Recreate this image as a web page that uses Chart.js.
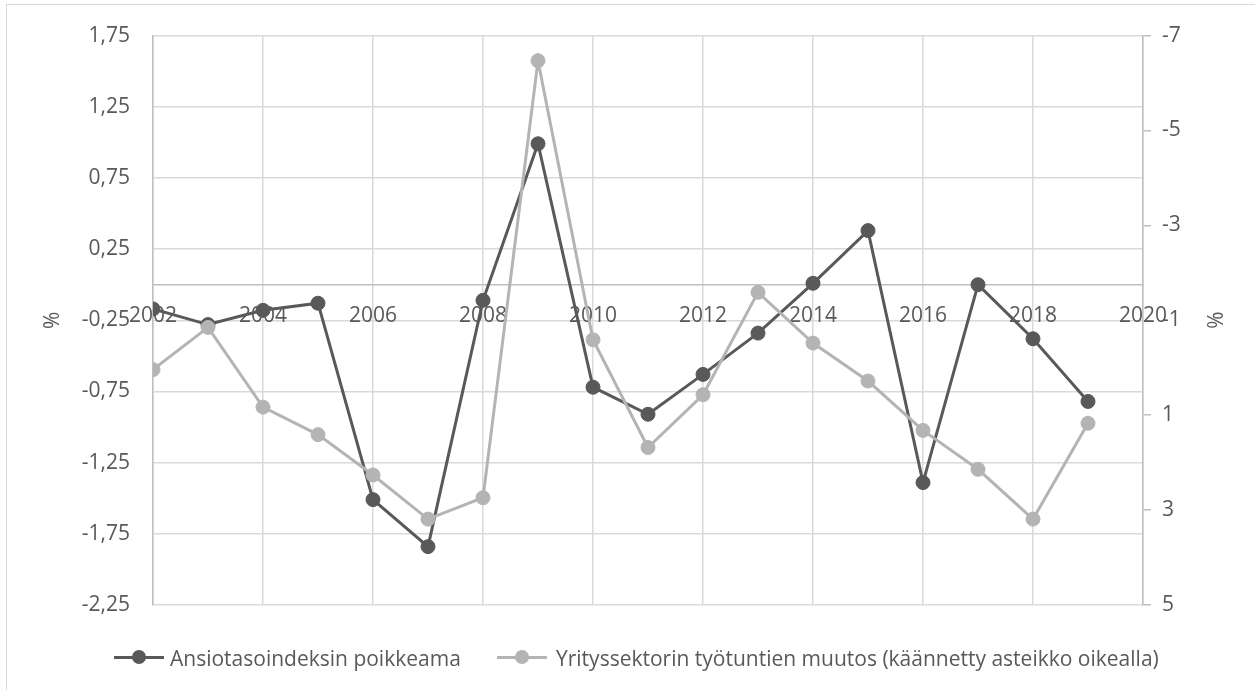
<!DOCTYPE html>
<html>
<head>
<meta charset="utf-8">
<script src="https://cdn.jsdelivr.net/npm/chart.js@4.4.1/dist/chart.umd.min.js"></script>
<style>
  html, body { margin: 0; padding: 0; background: #fff; overflow: hidden; }
  #frame { position: absolute; left: 6px; top: 4px; width: 1300px; height: 800px; border: 1px solid #d9d9d9; }
  #chart { position: absolute; left: 0; top: 0; }
  .leg { position: absolute; top: 644px; height: 26px; line-height: 26px; font: 21px 'Open Sans', sans-serif; color: #595959; white-space: nowrap; }
  .mark { position: absolute; top: 6px; width: 50px; height: 14px; }
  .mark .ln { position: absolute; left: 0; top: 5.5px; width: 50px; height: 3px; }
  .mark .dot { position: absolute; left: 18px; top: 0; width: 14px; height: 14px; border-radius: 50%; }
</style>
</head>
<body>
<div id="frame"></div>
<canvas id="chart" width="1255" height="690"></canvas>
<div id="legend"></div>
<script>
var years = [2002, 2003, 2004, 2005, 2006, 2007, 2008, 2009, 2010, 2011, 2012, 2013, 2014, 2015, 2016, 2017, 2018, 2019];
// vasen asteikko
var ansiotaso = [-0.17, -0.28, -0.18, -0.13, -1.51, -1.84, -0.11, 0.99, -0.72, -0.91, -0.63, -0.34, 0.01, 0.38, -1.39, 0.0, -0.38, -0.82];
// oikea asteikko (käännetty)
var tyotunnit = [0.04, -0.85, 0.83, 1.41, 2.26, 3.19, 2.74, -6.47, -0.59, 1.68, 0.57, -1.59, -0.52, 0.28, 1.32, 2.14, 3.19, 1.17];
var seriesNames = ['Ansiotasoindeksin poikkeama', 'Yrityssektorin työtuntien muutos (käännetty asteikko oikealla)'];
var seriesColors = ['#595959', '#b4b4b4'];

var txt = '#595959';
Chart.defaults.font.family = "'Open Sans', sans-serif";
Chart.defaults.font.size = 21;
Chart.defaults.color = txt;

function pts(vals) {
  return years.map(function(yr, i) { return {x: yr, y: vals[i]}; });
}

function ds(i, vals, axis, order) {
  return {
    label: seriesNames[i],
    data: pts(vals),
    yAxisID: axis,
    borderColor: seriesColors[i],
    backgroundColor: seriesColors[i],
    pointBackgroundColor: seriesColors[i],
    pointBorderColor: seriesColors[i],
    borderWidth: 3,
    pointRadius: 7,
    pointBorderWidth: 1,
    pointHoverRadius: 7,
    tension: 0,
    order: order
  };
}

var ctx = document.getElementById('chart').getContext('2d');
var chart = new Chart(ctx, {
  type: 'line',
  data: {
    datasets: [ds(0, ansiotaso, 'y', 2), ds(1, tyotunnit, 'y2', 1)]
  },
  options: {
    responsive: false,
    animation: false,
    layout: { padding: { left: 25, right: 0, top: 34, bottom: 85 } },
    plugins: { legend: { display: false }, tooltip: { enabled: false } },
    scales: {
      x: {
        type: 'linear',
        position: { y: 0 },
        min: 2002,
        max: 2020,
        ticks: { stepSize: 2, padding: 19, maxRotation: 0, autoSkip: false, callback: function(v) { return String(v); } },
        grid: { color: '#d9d9d9', lineWidth: 1.5, drawTicks: false },
        border: { color: '#bfbfbf', width: 1.5 }
      },
      y: {
        position: 'left',
        min: -2.25,
        max: 1.75,
        ticks: { stepSize: 0.5, padding: 23, callback: function(v) { return v.toFixed(2).replace('.', ','); } },
        grid: { color: '#d9d9d9', lineWidth: 1.5, drawTicks: false },
        border: { color: '#bfbfbf', width: 1.5 },
        title: { display: true, text: '%', color: txt, padding: { top: 15, bottom: 0 } },
        afterFit: function(s) { s.width = 128; }
      },
      y2: {
        position: 'right',
        reverse: true,
        min: -7,
        max: 5,
        ticks: { stepSize: 2, padding: 11, callback: function(v) { return String(v); } },
        grid: { drawOnChartArea: false, drawTicks: true, tickLength: 8, color: '#bfbfbf', lineWidth: 1.5 },
        border: { color: '#bfbfbf', width: 1.5 },
        title: { display: true, text: '%', color: txt, padding: { top: 29, bottom: 0 } },
        afterFit: function(s) { s.width = 112; }
      }
    }
  }
});

// selite
var legendPos = [[114, 170], [497, 556]];
var legend = document.getElementById('legend');
seriesNames.forEach(function(name, i) {
  var m = document.createElement('div');
  m.className = 'leg';
  m.style.left = legendPos[i][0] + 'px';
  m.innerHTML = '<div class="mark"><div class="ln" style="background:' + seriesColors[i] + '"></div>' +
    '<div class="dot" style="background:' + seriesColors[i] + '"></div></div>';
  var t = document.createElement('div');
  t.className = 'leg';
  t.style.left = legendPos[i][1] + 'px';
  t.textContent = name;
  legend.appendChild(m);
  legend.appendChild(t);
});
</script>
</body>
</html>
